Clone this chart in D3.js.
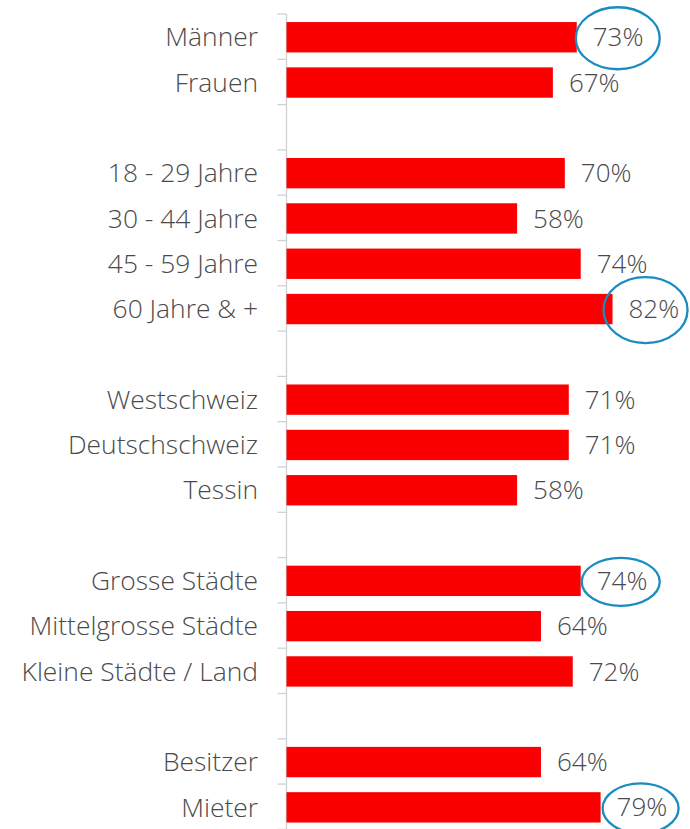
<!DOCTYPE html>
<html><head><meta charset="utf-8">
<script src="https://cdn.jsdelivr.net/npm/d3@7"></script>
<style>
html,body{margin:0;padding:0;background:#fff;}
svg{display:block;}
text{font-family:"Open Sans",sans-serif;font-weight:300;fill:#4a4a4a;}
</style></head><body>
<svg id="c" width="690" height="829"></svg>
<script>
// Categories (empty strings are group separators)
const categories = ["Männer","Frauen","",
  "18 - 29 Jahre","30 - 44 Jahre","45 - 59 Jahre","60 Jahre & +","",
  "Westschweiz","Deutschschweiz","Tessin","",
  "Grosse Städte","Mittelgrosse Städte","Kleine Städte / Land","",
  "Besitzer","Mieter"];
const values = [73,67,null,70,58,74,82,null,71,71,58,null,74,64,72,null,64,79];
// highlight annotations: category, horizontal offset, radii
const hlCats = ["Männer","60 Jahre & +","Grosse Städte","Mieter"];
const hlDx = [41,33,40,40];
const hlRx = [42,42,39,38];
const hlRy = [31,33,24,25];

const svg = d3.select("#c");
const ids = categories.map((c,i)=>i);
const y = d3.scaleBand().domain(ids).range([14.6, 830]).paddingInner(0.33).paddingOuter(0.165);
const x = d3.scaleLinear().domain([0,100]).range([286.5, 684.1]);

const step = y.step();
const axisX = 286.5;
svg.append("line").attr("x1",axisX).attr("x2",axisX).attr("y1",14).attr("y2",829)
  .attr("stroke","#d0d0d0").attr("stroke-width",1.3);
d3.range(categories.length+1).forEach(i=>{
  const yy = 14 + i*step;
  svg.append("line").attr("x1",axisX-9).attr("x2",axisX).attr("y1",yy).attr("y2",yy)
    .attr("stroke","#d0d0d0").attr("stroke-width",1.3);
});

const data = categories.map((c,i)=>({c, i, v: values[i]})).filter(d=>d.v!=null);

svg.selectAll("rect.bar").data(data).join("rect").attr("class","bar")
  .attr("x", x(0)).attr("y", d=>y(d.i)).attr("height", y.bandwidth())
  .attr("width", d=>x(d.v)-x(0)).attr("fill","#fa0000");

svg.selectAll("text.cat").data(data).join("text").attr("class","cat")
  .attr("x", 258).attr("y", d=>y(d.i)+y.bandwidth()/2).attr("dy","0.35em")
  .attr("text-anchor","end").attr("font-size",26.4).text(d=>d.c);

svg.selectAll("text.val").data(data).join("text").attr("class","val")
  .attr("x", d=>x(d.v)+16).attr("y", d=>y(d.i)+y.bandwidth()/2).attr("dy","0.35em")
  .attr("font-size",26).text(d=>d.v+"%");

const hl = hlCats.map((c,k)=>{
  const d = data.find(e=>e.c===c);
  return {d, dx:hlDx[k], rx:hlRx[k], ry:hlRy[k]};
});
svg.selectAll("ellipse.hl").data(hl).join("ellipse")
  .attr("class","hl")
  .attr("cx", h=>x(h.d.v)+h.dx).attr("cy", h=>y(h.d.i)+y.bandwidth()/2+1)
  .attr("rx", h=>h.rx).attr("ry", h=>h.ry)
  .attr("fill","none").attr("stroke","#1a8cbf").attr("stroke-width",2.3);
</script></body></html>
